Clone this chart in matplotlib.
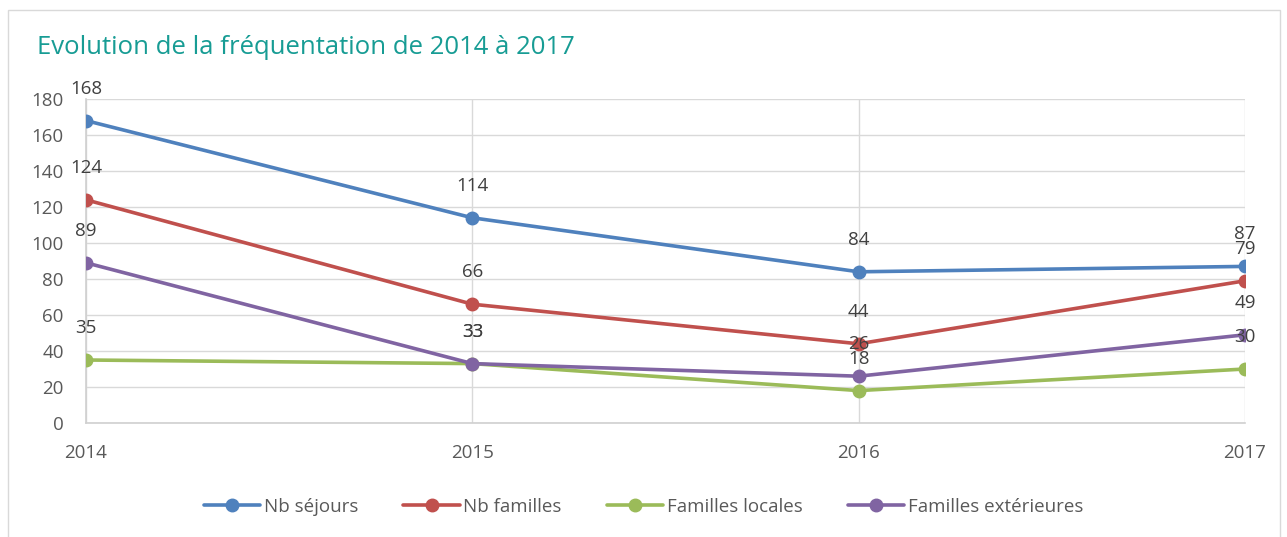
import matplotlib
matplotlib.use("Agg")
import matplotlib.pyplot as plt
from matplotlib.patches import Rectangle

years = ["2014", "2015", "2016", "2017"]
series_names = ["Nb séjours", "Nb familles", "Familles locales", "Familles extérieures"]
nb_sejours = [168, 114, 84, 87]
nb_familles = [124, 66, 44, 79]
familles_locales = [35, 33, 18, 30]
familles_exterieures = [89, 33, 26, 49]
yticks = [0, 20, 40, 60, 80, 100, 120, 140, 160, 180]

colors = ["#4f81bd", "#c0504d", "#9bbb59", "#8064a2"]
series = [nb_sejours, nb_familles, familles_locales, familles_exterieures]

plt.rcParams['font.family'] = ['Open Sans', 'DejaVu Sans']
txt = "#595959"

fig = plt.figure(figsize=(12.87, 5.37), dpi=100)
fig.patches.append(Rectangle((8/1287, -0.01), (1280-8)/1287, 1 - 10/537 + 0.01,
                             transform=fig.transFigure, fill=False,
                             edgecolor="#d9d9d9", linewidth=1))
ax = fig.add_axes([86/1287, 1-423/537, (1245-86)/1287, (423-99)/537])

x = list(range(len(years)))
for name, vals, c in zip(series_names, series, colors):
    ax.plot(x, vals, color=c, lw=2.6, marker='o', markersize=9, label=name,
            solid_capstyle='round', zorder=3)
for vals in series:
    for xi, v in zip(x, vals):
        ax.annotate(str(v), (xi, v), xytext=(0, 23), textcoords='offset points',
                    ha='center', va='center', fontsize=13.5, color="#404040", zorder=4)

ax.set_xlim(0, 3)
ax.set_ylim(0, 180)
ax.set_yticks(yticks)
ax.set_xticks(x)
ax.set_xticklabels(years)
ax.grid(True, color="#d9d9d9", lw=1)
ax.set_axisbelow(True)
for s in ['top', 'right']:
    ax.spines[s].set_visible(False)
for s in ['left', 'bottom']:
    ax.spines[s].set_color("#d0d0d0")
    ax.spines[s].set_linewidth(1.2)
ax.tick_params(axis='both', length=0, labelsize=13.5, colors=txt)
ax.tick_params(axis='x', pad=15)
ax.tick_params(axis='y', pad=16)

fig.text(37/1287, 1-48/537, "Evolution de la fréquentation de 2014 à 2017",
         color="#179c94", fontsize=18.5, ha='left', va='center')

leg = fig.legend(loc='center', bbox_to_anchor=(0.5, 1-507/537), ncol=4, frameon=False,
                 fontsize=13.5, handlelength=3.0, columnspacing=2.4, handletextpad=0.2,
                 labelcolor=txt)

fig.savefig("out.png", dpi=100)
